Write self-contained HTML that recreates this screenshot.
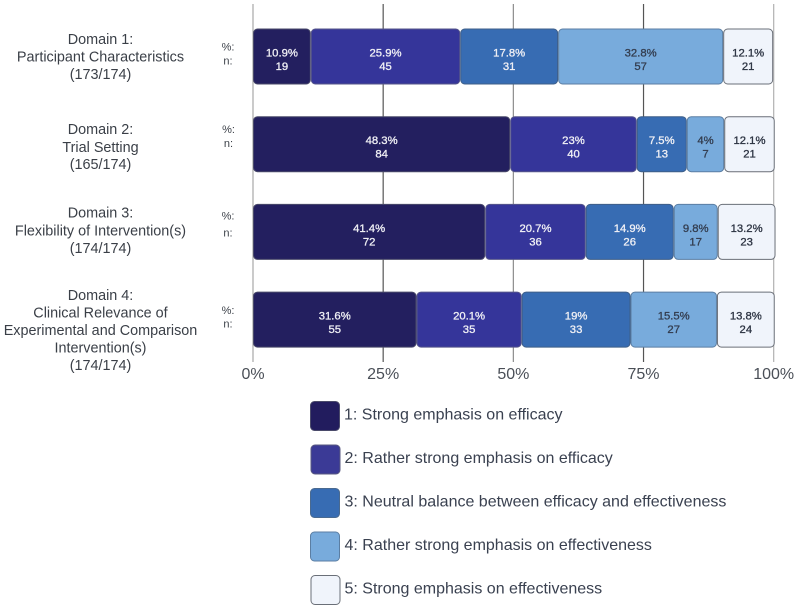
<!DOCTYPE html>
<html lang="en">
<head>
<meta charset="utf-8">
<title>Emphasis on efficacy and effectiveness by domain</title>
<style>
  html, body { margin: 0; padding: 0; background: #fff; }
  body { width: 800px; height: 610px; overflow: hidden; }
  svg { display: block; font-family: "Liberation Sans", sans-serif; filter: blur(0.3px); }
  .domain { font-size: 14.4px; fill: #3a3f47; text-anchor: middle; }
  .rowkey { font-size: 11px; fill: #3a3f47; text-anchor: middle; }
  .tick { font-size: 16px; fill: #4a4f57; text-anchor: middle; }
  .value { font-size: 11.3px; stroke-width: 0.3px; text-anchor: middle; }
  .legend-text { font-size: 16px; fill: #3a4150; }
</style>
</head>
<body>
<svg id="chart" width="800" height="610" viewBox="0 0 800 610" xmlns="http://www.w3.org/2000/svg">
  <g id="grid"></g>
  <g id="bars"></g>
  <g id="ticks"></g>

  <g>
    <text class="domain" x="100.5" y="44">Domain 1:</text>
    <text class="domain" x="100.5" y="61.5">Participant Characteristics</text>
    <text class="domain" x="100.5" y="79">(173/174)</text>
  </g>
  <g>
    <text class="domain" x="100.5" y="134">Domain 2:</text>
    <text class="domain" x="100.5" y="152">Trial Setting</text>
    <text class="domain" x="100.5" y="169">(165/174)</text>
  </g>
  <g>
    <text class="domain" x="100.5" y="217.7">Domain 3:</text>
    <text class="domain" x="100.5" y="235.7">Flexibility of Intervention(s)</text>
    <text class="domain" x="100.5" y="253">(174/174)</text>
  </g>
  <g>
    <text class="domain" x="100.5" y="300">Domain 4:</text>
    <text class="domain" x="100.5" y="317.5">Clinical Relevance of</text>
    <text class="domain" x="100.5" y="335">Experimental and Comparison</text>
    <text class="domain" x="100.5" y="352.5">Intervention(s)</text>
    <text class="domain" x="100.5" y="370">(174/174)</text>
  </g>

  <g>
    <text class="rowkey" x="228" y="50.5">%:</text>
    <text class="rowkey" x="228" y="64.5">n:</text>
    <text class="rowkey" x="228.5" y="133">%:</text>
    <text class="rowkey" x="228.5" y="147">n:</text>
    <text class="rowkey" x="228" y="219.5">%:</text>
    <text class="rowkey" x="228" y="236.5">n:</text>
    <text class="rowkey" x="228" y="314">%:</text>
    <text class="rowkey" x="228" y="327.5">n:</text>
  </g>

  <g>
    <g>
      <rect x="310.5" y="401.5" width="29" height="29" rx="4" fill="#221c5e" stroke="#4a4a6a"/>
      <text class="legend-text" x="344" y="419.5">1: Strong emphasis on efficacy</text>
    </g>
    <g>
      <rect x="311" y="445" width="29" height="29" rx="4" fill="#3b3a96" stroke="#5a5a80"/>
      <text class="legend-text" x="344.5" y="463">2: Rather strong emphasis on efficacy</text>
    </g>
    <g>
      <rect x="310.5" y="488.5" width="29" height="29" rx="4" fill="#376cb3" stroke="#4a6a90"/>
      <text class="legend-text" x="344.5" y="506.5">3: Neutral balance between efficacy and effectiveness</text>
    </g>
    <g>
      <rect x="310.5" y="532" width="29" height="29" rx="4" fill="#78abdc" stroke="#5b7ea3"/>
      <text class="legend-text" x="344.5" y="550">4: Rather strong emphasis on effectiveness</text>
    </g>
    <g>
      <rect x="311" y="575.5" width="29" height="29" rx="4" fill="#f0f4fb" stroke="#6a6f78"/>
      <text class="legend-text" x="344.5" y="593.5">5: Strong emphasis on effectiveness</text>
    </g>
  </g>
</svg>
<script>
// Chart data: one entry per domain, in display order.
const domains = ['Domain 1', 'Domain 2', 'Domain 3', 'Domain 4'];
const tickValues = [0, 25, 50, 75, 100];

// Drawn segment lengths in axis percent.
const level1Drawn = [11.1, 49.4, 44.6, 31.4];
const level2Drawn = [28.7, 24.3, 19.3, 20.2];
const level3Drawn = [18.8, 9.6, 16.9, 20.9];
const level4Drawn = [31.7, 7.2, 8.45, 16.6];
const level5Drawn = [9.6, 9.7, 11.1, 11.1];

// Printed percentages.
const level1Percent = [10.9, 48.3, 41.4, 31.6];
const level2Percent = [25.9, 23, 20.7, 20.1];
const level3Percent = [17.8, 7.5, 14.9, 19];
const level4Percent = [32.8, 4, 9.8, 15.5];
const level5Percent = [12.1, 12.1, 13.2, 13.8];

// Printed counts.
const level1Count = [19, 84, 72, 55];
const level2Count = [45, 40, 36, 35];
const level3Count = [31, 13, 26, 33];
const level4Count = [57, 7, 17, 27];
const level5Count = [21, 21, 23, 24];

const drawnByLevel = [level1Drawn, level2Drawn, level3Drawn, level4Drawn, level5Drawn];
const percentByLevel = [level1Percent, level2Percent, level3Percent, level4Percent, level5Percent];
const countByLevel = [level1Count, level2Count, level3Count, level4Count, level5Count];

// Axis functions and styling.
const SVG_NS = 'http://www.w3.org/2000/svg';
const xScale = v => 253 + v * 5.207;
const rowTop = i => 29 + i * 87.7;
const BAR_HEIGHT = 55;
const levelFill = ['#231f5f', '#35359a', '#376cb3', '#78abdc', '#f0f4fb'];
const levelStroke = ['#4a4a6a', '#56568a', '#3f5f88', '#5b7ea3', '#6a6f78'];
const levelText = ['#f0f0f5', '#f0f0f5', '#f0f0f5', '#333d4f', '#2d3443'];
const gridStroke = ['#a8a8a8', '#555555', '#8c8c8c', '#555555', '#b0b0b0'];

const gridLayer = document.getElementById('grid');
const tickLayer = document.getElementById('ticks');
const barLayer = document.getElementById('bars');

tickValues.forEach((t, i) => {
  const line = document.createElementNS(SVG_NS, 'line');
  
  
  line.setAttribute('x1', xScale(t));
  line.setAttribute('x2', xScale(t));
  line.setAttribute('y1', 4);
  line.setAttribute('y2', 362);
  line.setAttribute('stroke', gridStroke[i]);
  line.setAttribute('stroke-width', 1.2);
  gridLayer.appendChild(line);

  const label = document.createElementNS(SVG_NS, 'text');
  
  
  label.setAttribute('class', 'tick');
  label.setAttribute('x', xScale(t));
  label.setAttribute('y', 379);
  label.textContent = t + '%';
  tickLayer.appendChild(label);
});

domains.forEach((domain, row) => {
  let cumulative = 0;
  drawnByLevel.forEach((series, level) => {
    const x0 = xScale(cumulative);
    const x1 = xScale(cumulative + series[row]);
    cumulative += series[row];
    const top = rowTop(row);

    const rect = document.createElementNS(SVG_NS, 'rect');
    
    
    rect.setAttribute('x', x0 + 0.5);
    rect.setAttribute('y', top);
    rect.setAttribute('width', Math.max(0, x1 - x0 - 1));
    rect.setAttribute('height', BAR_HEIGHT);
    rect.setAttribute('rx', 4);
    rect.setAttribute('fill', levelFill[level]);
    rect.setAttribute('stroke', levelStroke[level]);
    rect.setAttribute('stroke-width', 1);
    barLayer.appendChild(rect);

    const pct = document.createElementNS(SVG_NS, 'text');
    
    
    pct.setAttribute('class', 'value');
    pct.setAttribute('x', (x0 + x1) / 2);
    pct.setAttribute('y', top + 27.5);
    pct.setAttribute('fill', levelText[level]);
    pct.setAttribute('stroke', levelText[level]);
    pct.textContent = percentByLevel[level][row] + '%';
    barLayer.appendChild(pct);

    const count = document.createElementNS(SVG_NS, 'text');
    
    
    count.setAttribute('class', 'value');
    count.setAttribute('x', (x0 + x1) / 2);
    count.setAttribute('y', top + 41);
    count.setAttribute('fill', levelText[level]);
    count.setAttribute('stroke', levelText[level]);
    count.textContent = countByLevel[level][row];
    barLayer.appendChild(count);
  });
});
</script>
</body>
</html>
